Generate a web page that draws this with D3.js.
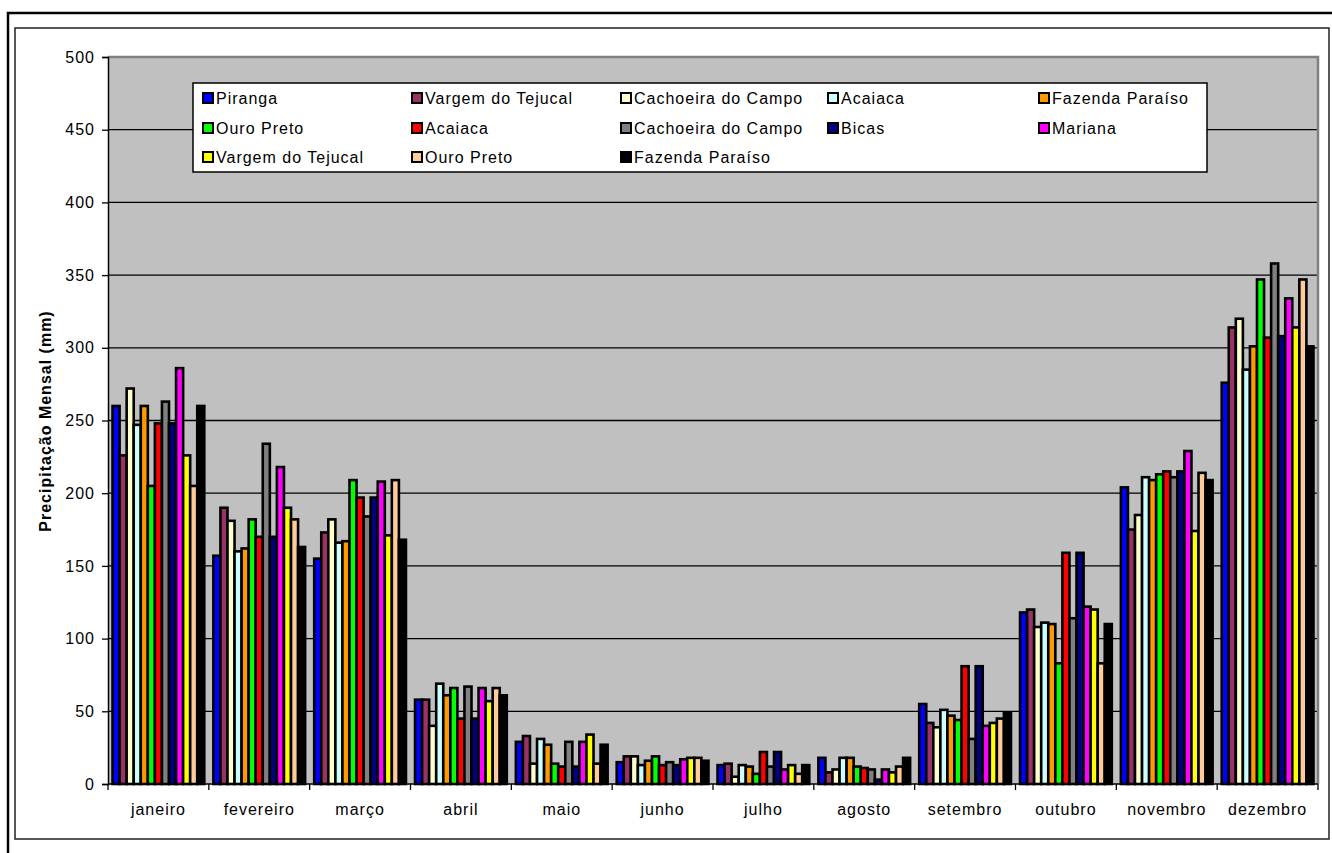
<!DOCTYPE html>
<html>
<head>
<meta charset="utf-8">
<script src="https://cdn.jsdelivr.net/npm/d3@7"></script>
<style>
  html, body { margin: 0; padding: 0; background: #fff; }
  svg { display: block; }
  text { font-family: "Liberation Sans", Arial, sans-serif; fill: #000; }
</style>
</head>
<body>
<script>
// Monthly precipitation (mm) per station
const months = ["janeiro", "fevereiro", "março", "abril", "maio", "junho",
                "julho", "agosto", "setembro", "outubro", "novembro", "dezembro"];

const seriesNames = ["Piranga", "Vargem do Tejucal", "Cachoeira do Campo", "Acaiaca",
  "Fazenda Paraíso", "Ouro Preto", "Acaiaca", "Cachoeira do Campo", "Bicas",
  "Mariana", "Vargem do Tejucal", "Ouro Preto", "Fazenda Paraíso"];

const seriesColors = ["#0000ff", "#993366", "#ffffcc", "#ccffff", "#ff9900", "#00ff00",
  "#ff0000", "#808080", "#000080", "#ff00ff", "#ffff00", "#ffcc99", "#000000"];

const piranga      = [260, 157, 155, 58, 29, 15, 13, 18, 55, 118, 204, 276];
const vargem1      = [226, 190, 173, 58, 33, 19, 14,  8, 42, 120, 175, 314];
const cachoeira1   = [272, 181, 182, 40, 14, 19,  5, 10, 39, 108, 185, 320];
const acaiaca1     = [247, 160, 166, 69, 31, 13, 13, 18, 51, 111, 211, 285];
const fazenda1     = [260, 162, 167, 61, 27, 16, 12, 18, 47, 110, 209, 301];
const ouroPreto1   = [205, 182, 209, 66, 14, 19,  7, 12, 44,  83, 213, 347];
const acaiaca2     = [248, 170, 197, 45, 12, 13, 22, 11, 81, 159, 215, 307];
const cachoeira2   = [263, 234, 184, 67, 29, 15, 12, 10, 31, 114, 211, 358];
const bicas        = [248, 170, 197, 45, 12, 13, 22,  3, 81, 159, 215, 308];
const mariana      = [286, 218, 208, 66, 29, 17, 10, 10, 40, 122, 229, 334];
const vargem2      = [226, 190, 171, 57, 34, 18, 13,  8, 42, 120, 174, 314];
const ouroPreto2   = [205, 182, 209, 66, 14, 18,  7, 12, 45,  83, 214, 347];
const fazenda2     = [260, 163, 168, 61, 27, 16, 13, 18, 49, 110, 209, 301];

const seriesValues = [piranga, vargem1, cachoeira1, acaiaca1, fazenda1, ouroPreto1,
  acaiaca2, cachoeira2, bicas, mariana, vargem2, ouroPreto2, fazenda2];

const yTicks = [0, 50, 100, 150, 200, 250, 300, 350, 400, 450, 500];
const yTitle = "Precipitação Mensal (mm)";

const W = 1332, H = 853;
const plot = { left: 108, right: 1318, top: 57, bottom: 784 };

const svg = d3.select("body").append("svg").attr("width", W).attr("height", H);

// frames around the chart
svg.append("rect").attr("x", 8).attr("y", 13).attr("width", 1340).attr("height", 860)
  .attr("fill", "#fff").attr("stroke", "#000").attr("stroke-width", 2.5);
svg.append("rect").attr("x", 15).attr("y", 28).attr("width", 1314).attr("height", 811)
  .attr("fill", "#fff").attr("stroke", "#222").attr("stroke-width", 1.5);

const x0 = d3.scaleBand().domain(months).range([plot.left, plot.right]).padding(0);
const bw = x0.bandwidth();
const x1 = d3.scaleBand().domain(d3.range(seriesNames.length))
  .range([bw * 0.045, bw * 0.955]).padding(0);
const y = d3.scaleLinear().domain([0, 500]).range([plot.bottom, plot.top]);

// plot area
svg.append("rect").attr("x", plot.left).attr("y", plot.top)
  .attr("width", plot.right - plot.left).attr("height", plot.bottom - plot.top)
  .attr("fill", "#c0c0c0");

// gridlines
svg.append("g").selectAll("line").data(yTicks.filter(t => t > 0 && t < 500)).join("line")
  .attr("x1", plot.left).attr("x2", plot.right)
  .attr("y1", d => y(d)).attr("y2", d => y(d))
  .attr("stroke", "#000").attr("stroke-width", 1.3);

// plot area border (top and right)
svg.append("path")
  .attr("d", `M${plot.left},${plot.top}H${plot.right}V${plot.bottom}`)
  .attr("fill", "none").attr("stroke", "#808080").attr("stroke-width", 2.5);

// bars
const cells = [];
months.forEach((m, mi) => {
  seriesValues.forEach((vals, si) => cells.push({ m, si, v: vals[mi] }));
});
svg.append("g").selectAll("rect").data(cells).join("rect")
  .attr("x", d => x0(d.m) + x1(d.si))
  .attr("y", d => y(d.v))
  .attr("width", x1.bandwidth())
  .attr("height", d => y(0) - y(d.v))
  .attr("fill", d => seriesColors[d.si])
  .attr("stroke", "#000").attr("stroke-width", 2.6);

// y axis
const yAxis = svg.append("g").attr("transform", `translate(${plot.left},0)`)
  .call(d3.axisLeft(y).tickValues(yTicks).tickSize(6).tickPadding(7));
yAxis.select(".domain").attr("stroke", "#000").attr("stroke-width", 1.5);
yAxis.selectAll(".tick line").attr("stroke", "#000").attr("stroke-width", 1.3);
yAxis.selectAll(".tick text").attr("font-size", 16).attr("letter-spacing", "1px")
  .attr("font-family", "'Liberation Sans', Arial, sans-serif").attr("fill", "#000");

// x axis with ticks at category boundaries
const xAxis = svg.append("g").attr("transform", `translate(0,${plot.bottom})`);
xAxis.append("line").attr("x1", plot.left).attr("x2", plot.right)
  .attr("stroke", "#000").attr("stroke-width", 1.5);
const bounds = months.map(m => x0(m)).concat([plot.right]);
xAxis.selectAll(".bt").data(bounds).join("line").attr("class", "bt")
  .attr("x1", d => d).attr("x2", d => d).attr("y1", 0).attr("y2", 6)
  .attr("stroke", "#000").attr("stroke-width", 1.3);
xAxis.selectAll("text").data(months).join("text")
  .attr("x", d => x0(d) + bw / 2).attr("y", 31)
  .attr("text-anchor", "middle").attr("font-size", 16).attr("letter-spacing", "1px")
  .text(d => d);

// y axis title
svg.append("text")
  .attr("transform", "translate(51,421) rotate(-90)")
  .attr("text-anchor", "middle").attr("font-size", 16).attr("font-weight", "bold")
  .attr("letter-spacing", "1px")
  .text(yTitle);

// legend
const legend = svg.append("g");
legend.append("rect").attr("x", 193).attr("y", 83).attr("width", 1014).attr("height", 89)
  .attr("fill", "#fff").attr("stroke", "#000").attr("stroke-width", 1.5);
const colX = [203, 412, 621, 828, 1039];
const rowY = [98, 128, 157];
const items = legend.selectAll("g").data(seriesNames).join("g")
  .attr("transform", (d, i) => `translate(${colX[i % 5]},${rowY[Math.floor(i / 5)]})`);
items.append("rect").attr("x", 0).attr("y", -5).attr("width", 10).attr("height", 10)
  .attr("fill", (d, i) => seriesColors[i]).attr("stroke", "#000").attr("stroke-width", 2);
items.append("text").attr("x", 13).attr("y", 6)
  .attr("font-size", 16).attr("letter-spacing", "1px")
  .text(d => d);
</script>
</body>
</html>
